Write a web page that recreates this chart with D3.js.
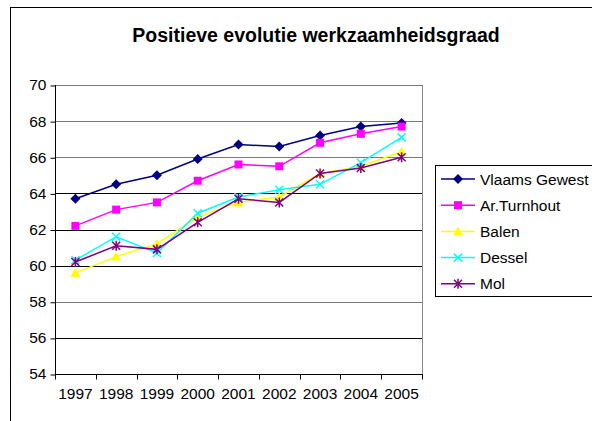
<!DOCTYPE html>
<html><head><meta charset="utf-8">
<script src="https://cdn.jsdelivr.net/npm/d3@7"></script>
<style>body{margin:0;background:#fff}svg{display:block}text{font-family:"Liberation Sans",Arial,sans-serif}</style>
</head><body>
<script>
const years = ["1997","1998","1999","2000","2001","2002","2003","2004","2005"];
const seriesNames = ["Vlaams Gewest","Ar.Turnhout","Balen","Dessel","Mol"];
const vlaams = [63.7,64.5,65.0,65.9,66.7,66.6,67.2,67.7,67.9];
const turnhout = [62.2,63.1,63.5,64.7,65.6,65.5,66.8,67.3,67.7];
const balen = [59.6,60.5,61.2,62.7,63.5,63.8,65.1,65.5,66.3];
const dessel = [60.3,61.6,60.7,62.9,63.8,64.2,64.5,65.7,67.1];
const mol = [60.2,61.1,60.9,62.4,63.7,63.5,65.1,65.4,66.0];
const yTicks = [54,56,58,60,62,64,66,68,70];
const title = "Positieve evolutie werkzaamheidsgraad";

const colors = ["#000080","#FF00FF","#FFFF00","#00FFFF","#800080"];
const markers = ["diamond","square","triangle","x","star"];
const data = [vlaams,turnhout,balen,dessel,mol];

const W=592,H=421;
const FS=15.5;
const svg=d3.select("body").append("svg").attr("width",W).attr("height",H);
svg.append("rect").attr("x",10.5).attr("y",7.5).attr("width",W).attr("height",H).attr("fill","#fff").attr("stroke","#000");

const L=55,R=422,T=85,B=374;
const x=d3.scaleBand().domain(years).range([L,R]);
const y=d3.scaleLinear().domain([54,70]).range([B,T]);

svg.append("text").attr("x",316).attr("y",42).attr("text-anchor","middle").attr("font-weight","bold").attr("font-size",19.5).text(title);

// grid
svg.append("g").selectAll("line").data(yTicks).join("line")
 .attr("x1",L).attr("x2",R).attr("y1",d=>Math.round(y(d))+0.5).attr("y2",d=>Math.round(y(d))+0.5)
 .attr("stroke",d=>d>=66||d===58?"#777":"#000");
svg.append("line").attr("x1",R+0.5).attr("x2",R+0.5).attr("y1",T).attr("y2",B).attr("stroke","#888");

// axes
const ya=svg.append("g").attr("transform",`translate(${L+0.5},0)`)
 .call(d3.axisLeft(y).tickValues(yTicks).tickSize(5).tickPadding(4).tickFormat(d3.format("d")));
ya.selectAll("text").attr("font-size",FS).attr("fill","#000").attr("font-family","Liberation Sans, Arial, sans-serif");
ya.select(".domain").attr("d",`M0,${T}V${B}`);
ya.selectAll(".tick line").attr("transform","translate(0,0.5)");

const xb=svg.append("g").attr("transform",`translate(0,${B+0.5})`);
xb.append("line").attr("x1",L).attr("x2",R+1).attr("stroke","#000");
const bounds=years.map(d=>x(d)).concat([R]);
xb.selectAll(".tk").data(bounds).join("line").attr("class","tk")
 .attr("x1",d=>Math.round(d)+0.5).attr("x2",d=>Math.round(d)+0.5).attr("y1",0).attr("y2",5).attr("stroke","#000");
xb.selectAll("text").data(years).join("text")
 .attr("x",d=>x(d)+x.bandwidth()/2).attr("y",24).attr("text-anchor","middle").attr("font-size",FS).text(d=>d);

function marker(g,type,cx,cy,c){
  if(type==="diamond") g.append("path").attr("d",`M${cx},${cy-5}L${cx+5},${cy}L${cx},${cy+5}L${cx-5},${cy}Z`).attr("fill",c);
  else if(type==="square") g.append("rect").attr("x",cx-4).attr("y",cy-4).attr("width",8).attr("height",8).attr("fill",c);
  else if(type==="triangle") g.append("path").attr("d",`M${cx},${cy-5}L${cx+5},${cy+4}L${cx-5},${cy+4}Z`).attr("fill",c);
  else if(type==="x") g.append("path").attr("d",`M${cx-4},${cy-4}L${cx+4},${cy+4}M${cx-4},${cy+4}L${cx+4},${cy-4}`).attr("stroke",c).attr("stroke-width",1.5);
  else if(type==="star") g.append("path").attr("d",`M${cx-4},${cy-4}L${cx+4},${cy+4}M${cx-4},${cy+4}L${cx+4},${cy-4}M${cx},${cy-5}L${cx},${cy+5}`).attr("stroke",c).attr("stroke-width",1.5);
}

const line=d3.line().x((d,i)=>x(years[i])+x.bandwidth()/2).y(d=>y(d));
data.forEach((vals,k)=>{
  const g=svg.append("g");
  g.append("path").attr("d",line(vals)).attr("fill","none").attr("stroke",colors[k]).attr("stroke-width",1.5);
  vals.forEach((v,i)=>marker(g,markers[k],x(years[i])+x.bandwidth()/2,y(v),colors[k]));
});

// legend
const lg=svg.append("g");
lg.append("rect").attr("x",435.5).attr("y",165.5).attr("width",200).attr("height",131).attr("fill","#fff").attr("stroke","#000");
seriesNames.forEach((n,k)=>{
  const yy=179+k*26.2;
  lg.append("line").attr("x1",441).attr("x2",475).attr("y1",yy).attr("y2",yy).attr("stroke",colors[k]).attr("stroke-width",1.5);
  marker(lg,markers[k],458,yy,colors[k]);
  lg.append("text").attr("x",480).attr("y",yy+5.5).attr("font-size",FS).text(n);
});
</script>
</body></html>
